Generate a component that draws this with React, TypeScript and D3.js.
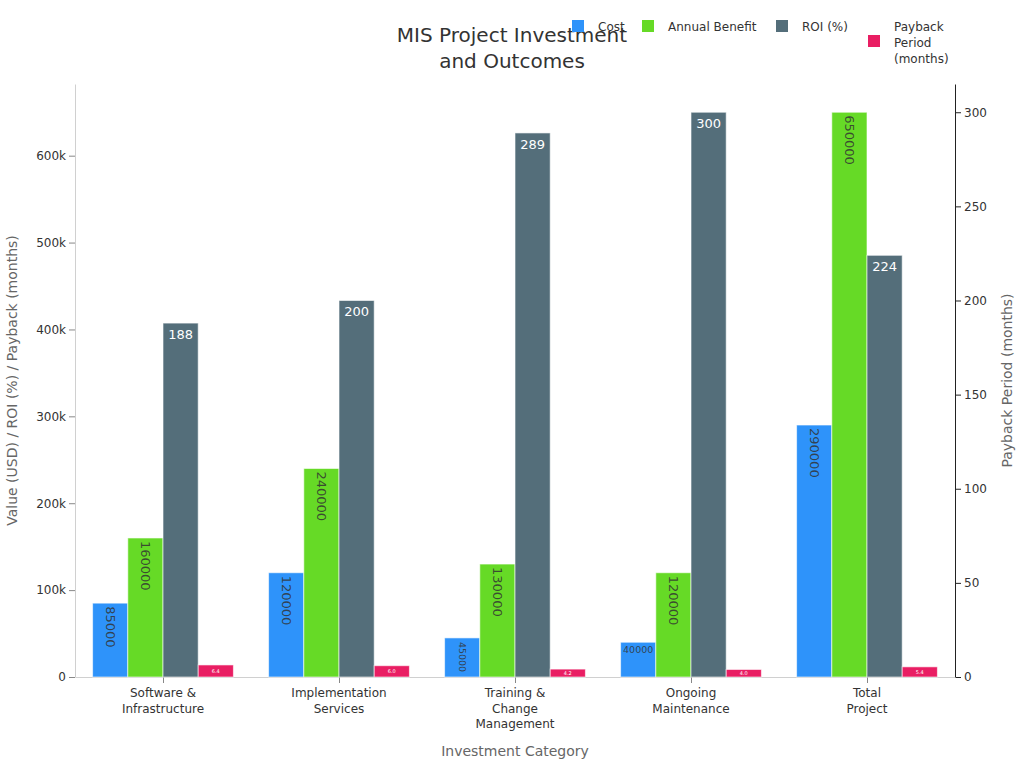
import React, { useEffect, useRef } from 'react';
import * as d3 from 'd3';

const categories = [
  ['Software &', 'Infrastructure'],
  ['Implementation', 'Services'],
  ['Training &', 'Change', 'Management'],
  ['Ongoing', 'Maintenance'],
  ['Total', 'Project'],
];
const costValues = [85000, 120000, 45000, 40000, 290000];
const benefitValues = [160000, 240000, 130000, 120000, 650000];
const roiValues = [188, 200, 289, 300, 224];
const paybackValues = [6.4, 6.0, 4.2, 4.0, 5.4];

const seriesNames = ['Cost', 'Annual Benefit', 'ROI (%)', 'Payback Period (months)'];
const colors = ['#2E93FA', '#66DA26', '#546E7A', '#E91E63'];
const leftTicks = [0, 100000, 200000, 300000, 400000, 500000, 600000];
const rightTicks = [0, 50, 100, 150, 200, 250, 300];

const FONT = '"DejaVu Sans", sans-serif';

const App: React.FC = () => {
  const svgRef = useRef<SVGSVGElement>(null);

  useEffect(() => {
    if (!svgRef.current) return;
    const svg = d3.select(svgRef.current);
    svg.selectAll('*').remove();

    const margin = { top: 84, right: 69, bottom: 91, left: 75 };
    const width = 1024 - margin.left - margin.right;
    const height = 768 - margin.top - margin.bottom;

    const g = svg.append('g').attr('transform', `translate(${margin.left},${margin.top})`);

    const idx = d3.range(categories.length);
    const x0 = d3.scaleBand<number>().domain(idx).range([0, width]).paddingInner(0.2).paddingOuter(0.1);
    const x1 = d3.scaleBand<number>().domain([0, 1, 2, 3]).range([0, x0.bandwidth()]);

    const yLeft = d3.scaleLinear().domain([0, 650000 * 1.05]).range([height, 0]);
    const yRight = d3.scaleLinear().domain([0, 300 * 1.05]).range([height, 0]);

    // axes
    const leftAxis = g.append('g').call(
      d3.axisLeft(yLeft).tickValues(leftTicks).tickSizeOuter(0)
        .tickFormat(d => (+d === 0 ? '0' : `${+d / 1000}k`))
    );
    leftAxis.select('.domain').attr('stroke', '#d0d0d0');
    leftAxis.selectAll('.tick line').attr('stroke', '#888');
    leftAxis.selectAll('.tick text').attr('fill', '#333').style('font-size', '12px').style('font-family', FONT);

    const rightAxis = g.append('g').attr('transform', `translate(${width},0)`).call(
      d3.axisRight(yRight).tickValues(rightTicks).tickSizeOuter(0)
    );
    rightAxis.select('.domain').attr('stroke', '#222');
    rightAxis.selectAll('.tick line').attr('stroke', '#222');
    rightAxis.selectAll('.tick text').attr('fill', '#333').style('font-size', '12px').style('font-family', FONT);

    const bottom = g.append('g').attr('transform', `translate(0,${height})`).call(
      d3.axisBottom(d3.scaleLinear().domain([0, width]).range([0, width]))
        .tickValues(idx.map(i => (x0(i) as number) + x0.bandwidth() / 2))
        .tickSizeOuter(0)
        .tickFormat(() => '')
    );
    bottom.select('.domain').attr('stroke', '#d0d0d0');
    bottom.selectAll('.tick line').attr('stroke', '#888');

    // category labels
    idx.forEach(i => {
      const t = g.append('text')
        .attr('x', (x0(i) as number) + x0.bandwidth() / 2)
        .attr('y', height + 20)
        .attr('text-anchor', 'middle')
        .attr('fill', '#333')
        .style('font-size', '12px')
        .style('font-family', FONT);
      categories[i].forEach((line, j) => {
        t.append('tspan')
          .attr('x', (x0(i) as number) + x0.bandwidth() / 2)
          .attr('dy', j === 0 ? 0 : 15.5)
          .text(line);
      });
    });

    // bars
    const series = [costValues, benefitValues, roiValues, paybackValues];
    series.forEach((vals, s) => {
      const yScale = s < 2 ? yLeft : yRight;
      g.append('g').selectAll('rect')
        .data(vals)
        .enter()
        .append('rect')
        .attr('x', (d, i) => (x0(i) as number) + (x1(s) as number))
        .attr('y', d => yScale(d))
        .attr('width', x1.bandwidth())
        .attr('height', d => height - yScale(d))
        .attr('fill', colors[s])
        .attr('stroke', '#ffffff')
        .attr('stroke-opacity', 0.6)
        .attr('stroke-width', 1);
    });

    // value labels
    [costValues, benefitValues].forEach((vals, s) => {
      vals.forEach((v, i) => {
        const cx = (x0(i) as number) + (x1(s) as number) + x1.bandwidth() / 2;
        const top = yLeft(v);
        const barH = height - top;
        if (barH < 37) {
          g.append('text')
            .attr('x', cx)
            .attr('y', top + 11)
            .attr('text-anchor', 'middle')
            .attr('fill', '#333')
            .attr('fill-opacity', 0.85)
            .style('font-size', '9.5px')
            .style('font-family', FONT)
            .text(v);
        } else {
          const small = barH < 60;
          g.append('text')
            .attr('transform', `translate(${cx},${top + (small ? 4 : 3)}) rotate(90)`)
            .attr('dy', '0.35em')
            .attr('fill', '#333')
            .attr('fill-opacity', 0.85)
            .style('font-size', small ? '9.5px' : '13px')
            .style('font-family', FONT)
            .text(v);
        }
      });
    });

    roiValues.forEach((v, i) => {
      const cx = (x0(i) as number) + (x1(2) as number) + x1.bandwidth() / 2;
      g.append('text')
        .attr('x', cx)
        .attr('y', yRight(v) + 16)
        .attr('text-anchor', 'middle')
        .attr('fill', '#fff')
        .style('font-size', '13px')
        .style('font-family', FONT)
        .text(v);
    });

    paybackValues.forEach((v, i) => {
      const cx = (x0(i) as number) + (x1(3) as number) + x1.bandwidth() / 2;
      const top = yRight(v);
      g.append('text')
        .attr('x', cx)
        .attr('y', (top + height) / 2)
        .attr('dy', '0.35em')
        .attr('text-anchor', 'middle')
        .attr('fill', '#fff')
        .style('font-size', '5px')
        .style('font-family', FONT)
        .text(v.toFixed(1));
    });

    // axis titles
    svg.append('text')
      .attr('transform', `translate(17,${margin.top + height / 2}) rotate(-90)`)
      .attr('text-anchor', 'middle')
      .attr('fill', '#666')
      .style('font-size', '14px')
      .style('font-family', FONT)
      .text('Value (USD) / ROI (%) / Payback (months)');

    svg.append('text')
      .attr('transform', `translate(1012,${margin.top + height / 2}) rotate(-90)`)
      .attr('text-anchor', 'middle')
      .attr('fill', '#666')
      .style('font-size', '14px')
      .style('font-family', FONT)
      .text('Payback Period (months)');

    svg.append('text')
      .attr('x', margin.left + width / 2)
      .attr('y', 756)
      .attr('text-anchor', 'middle')
      .attr('fill', '#666')
      .style('font-size', '14px')
      .style('font-family', FONT)
      .text('Investment Category');

    // title
    const title = svg.append('text')
      .attr('text-anchor', 'middle')
      .attr('fill', '#333')
      .style('font-size', '20px')
      .style('font-family', FONT);
    title.append('tspan').attr('x', 512).attr('y', 42).text('MIS Project Investment');
    title.append('tspan').attr('x', 512).attr('y', 68).text('and Outcomes');

    // legend
    const legendX = [572, 642, 776, 868];
    const legend = svg.append('g');
    seriesNames.forEach((name, s) => {
      const isLast = s === 3;
      legend.append('rect')
        .attr('x', legendX[s])
        .attr('y', isLast ? 35 : 20)
        .attr('width', 12)
        .attr('height', 12)
        .attr('fill', colors[s]);
      const t = legend.append('text')
        .attr('fill', '#333')
        .style('font-size', '12px')
        .style('font-family', FONT);
      if (isLast) {
        ['Payback', 'Period', '(months)'].forEach((line, j) => {
          t.append('tspan').attr('x', legendX[s] + 26).attr('y', 31 + j * 16).text(line);
        });
      } else {
        t.attr('x', legendX[s] + 26).attr('y', 31).text(name);
      }
    });
  }, []);

  return (
    <div style={{ position: 'absolute', left: 0, top: 0, width: 1024, height: 768, background: '#fff' }}>
      <svg ref={svgRef} width={1024} height={768} />
    </div>
  );
};

export default App;
